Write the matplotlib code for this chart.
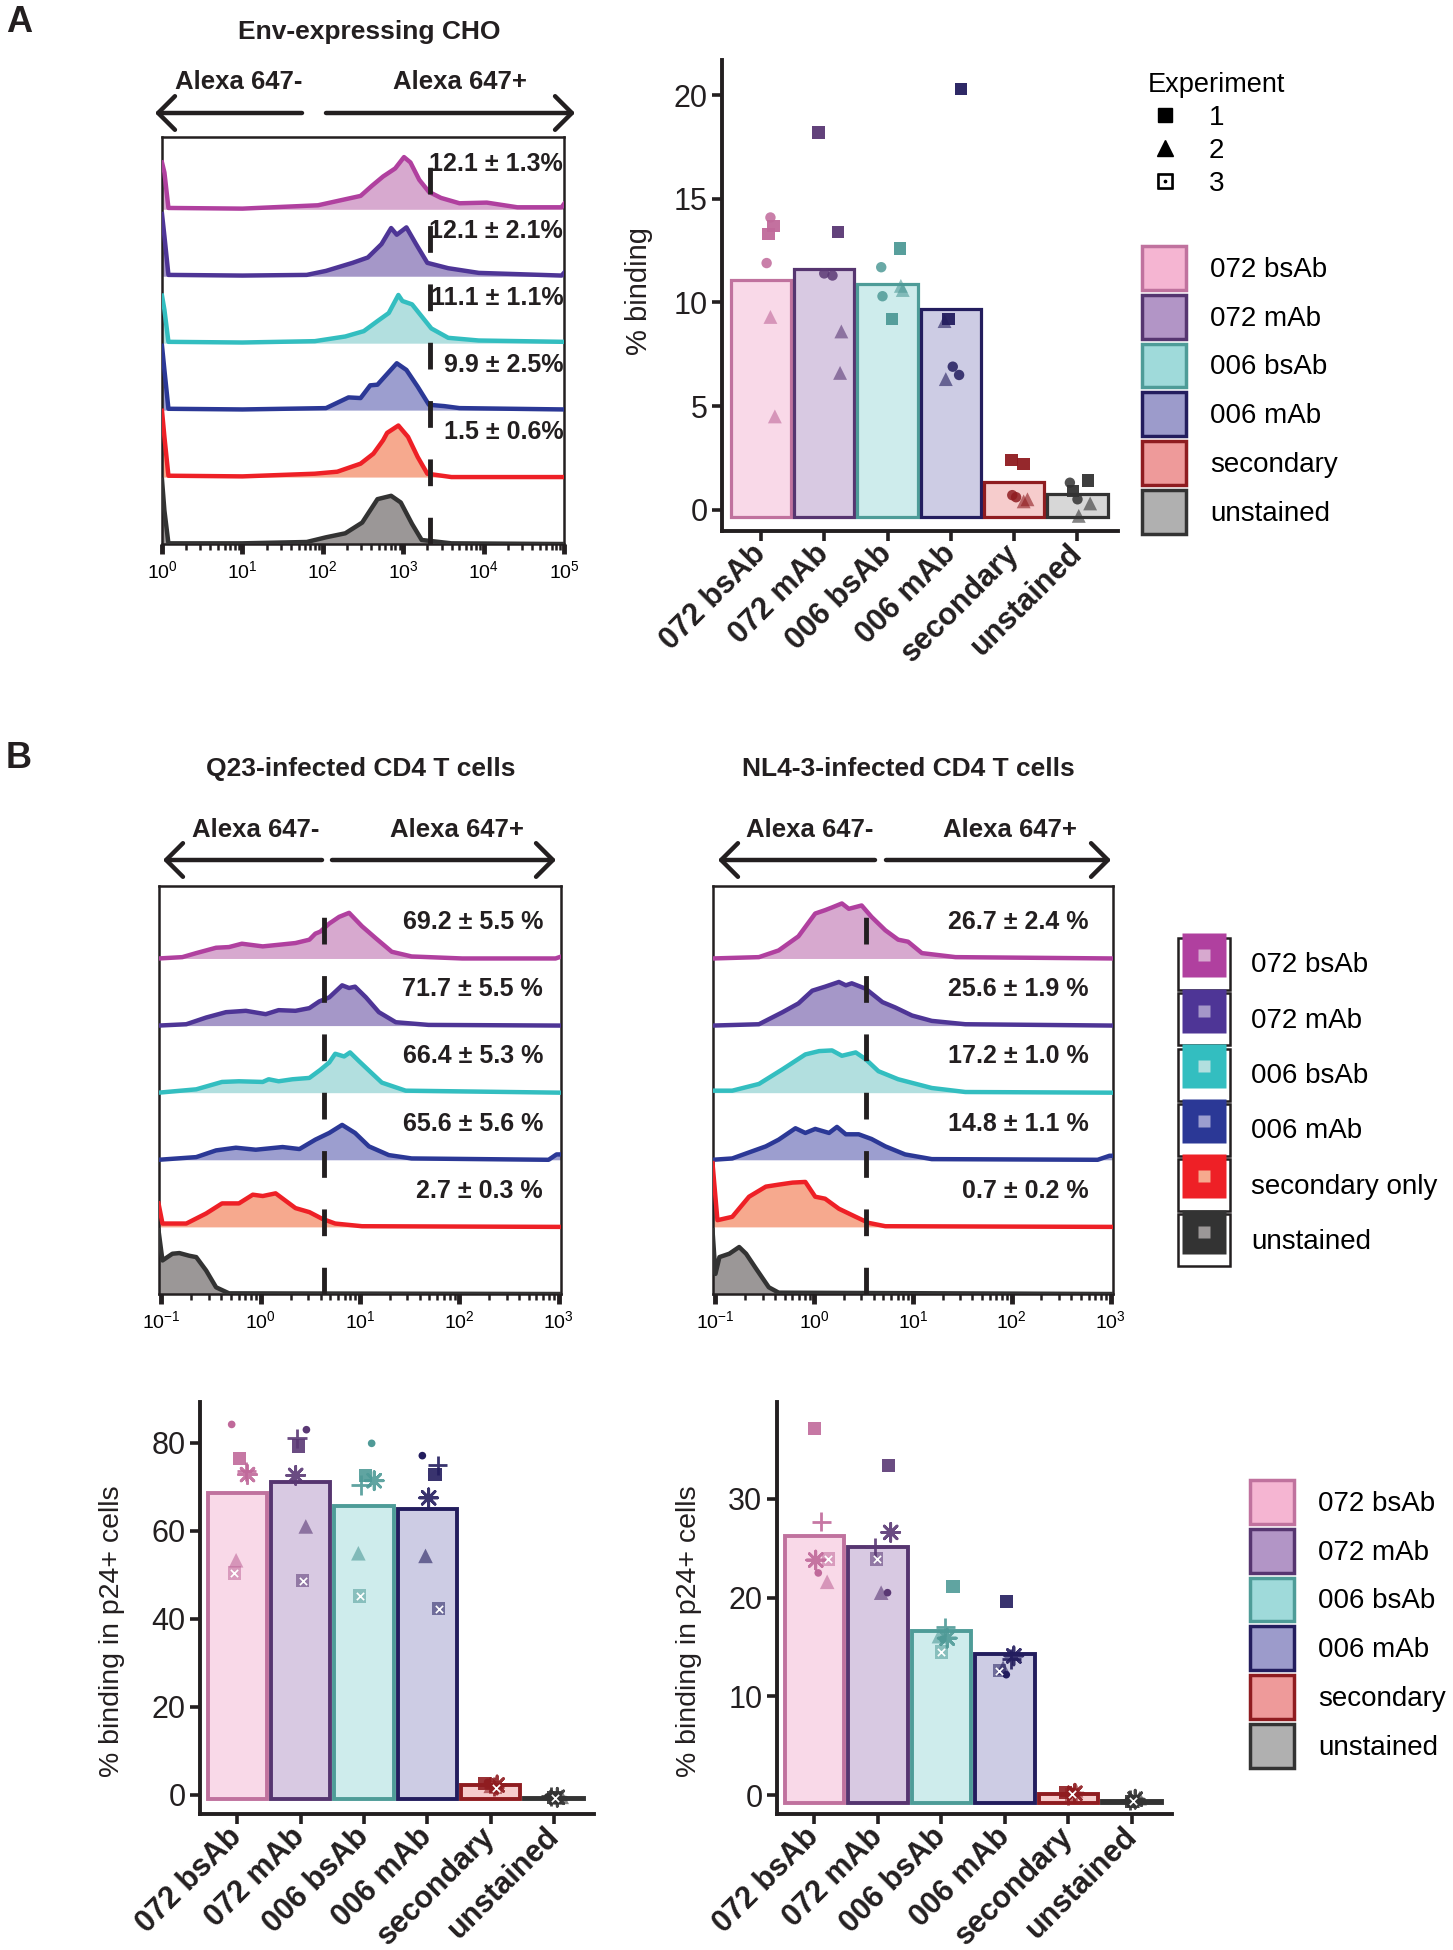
import matplotlib
matplotlib.use("Agg")
import matplotlib.pyplot as plt
import numpy as np
from matplotlib.colors import to_rgba
from matplotlib.lines import Line2D
from matplotlib.patches import Patch, FancyArrowPatch
from matplotlib.ticker import LogLocator, NullFormatter

plt.rcParams['font.family'] = ['Liberation Sans', 'DejaVu Sans']
plt.rcParams['mathtext.default'] = 'regular'

W, H = 1453, 1950
INK = '#231f20'

samples = ['072 bsAb', '072 mAb', '006 bsAb', '006 mAb', 'secondary', 'unstained']
hist_names = ['072 bsAb', '072 mAb', '006 bsAb', '006 mAb', 'secondary only', 'unstained']

# colours
line_col = ['#b0409f', '#4e3596', '#33bec0', '#2b3896', '#ee2026', '#333333']
fill_col = ['#d7a9cf', '#a597c8', '#b2dfdf', '#9c9ecf', '#f6a98e', '#9b9797']
bar_col = ['#f5b5d2', '#b295c6', '#9fdada', '#9c9bcb', '#ee9a9a', '#b0b0b0']
edge_col = ['#c0729e', '#563570', '#4e9c98', '#231d5e', '#8f1c20', '#333333']
pt_col = ['#c0699a', '#5a3874', '#4f9a97', '#231d5e', '#8f1c20', '#333333']

###histograms, Env-expressing CHO (log10 intensity, fraction of row height)
cho_x_072bs = [0.0, 0.03, 0.08, 1.0, 1.94, 2.28, 2.47, 2.61, 2.75, 2.9, 3.01, 3.09, 3.2, 3.32, 3.47, 3.7, 4.04, 4.42, 4.97, 5.0]
cho_y_072bs = [0.70, 0.55, 0.02, 0.01, 0.06, 0.15, 0.20, 0.35, 0.49, 0.61, 0.78, 0.70, 0.44, 0.26, 0.17, 0.09, 0.10, 0.03, 0.03, 0.08]
cho_x_072m = [0.0, 0.03, 0.08, 1.0, 1.8, 2.04, 2.37, 2.56, 2.73, 2.85, 2.92, 3.04, 3.16, 3.3, 3.56, 3.94, 4.97, 5.0]
cho_y_072m = [0.93, 0.6, 0.02, 0.01, 0.02, 0.08, 0.20, 0.28, 0.48, 0.72, 0.62, 0.73, 0.48, 0.20, 0.12, 0.05, 0.01, 0.05]
cho_x_006bs = [0.0, 0.03, 0.08, 1.0, 1.9, 2.28, 2.51, 2.68, 2.82, 2.94, 2.99, 3.11, 3.23, 3.35, 3.56, 3.94, 5.0]
cho_y_006bs = [0.71, 0.5, 0.02, 0.01, 0.03, 0.10, 0.18, 0.33, 0.45, 0.72, 0.63, 0.58, 0.40, 0.22, 0.08, 0.04, 0.02]
cho_x_006m = [0.0, 0.03, 0.08, 1.0, 2.04, 2.32, 2.47, 2.59, 2.68, 2.92, 3.04, 3.18, 3.32, 3.51, 3.7, 5.0]
cho_y_006m = [0.96, 0.6, 0.02, 0.01, 0.03, 0.19, 0.18, 0.37, 0.38, 0.70, 0.60, 0.35, 0.08, 0.06, 0.03, 0.01]
cho_x_sec = [0.0, 0.03, 0.08, 1.0, 1.9, 2.18, 2.47, 2.63, 2.75, 2.8, 2.94, 3.06, 3.18, 3.3, 3.6, 5.0]
cho_y_sec = [0.99, 0.6, 0.02, 0.01, 0.05, 0.08, 0.20, 0.35, 0.55, 0.66, 0.77, 0.60, 0.30, 0.05, 0.0, 0.0]
cho_x_uns = [0.0, 0.03, 0.08, 1.0, 1.8, 2.04, 2.28, 2.49, 2.68, 2.85, 2.97, 3.11, 3.23, 3.6, 5.0]
cho_y_uns = [0.96, 0.5, 0.01, 0.01, 0.03, 0.10, 0.16, 0.32, 0.67, 0.72, 0.62, 0.30, 0.06, 0.01, 0.0]
cho_pct = ['12.1 ± 1.3%', '12.1 ± 2.1%', '11.1 ± 1.1%', '9.9 ± 2.5%', '1.5 ± 0.6%']
cho_gate = 3.33

###histograms, Q23-infected CD4 T cells
q23_x_072bs = [-1.03, -0.79, -0.65, -0.45, -0.32, -0.19, 0.02, 0.22, 0.35, 0.49, 0.55, 0.60, 0.69, 0.79, 0.89, 1.02, 1.16, 1.32, 1.52, 2.03, 2.97, 3.03]
q23_y_072bs = [0.0, 0.02, 0.08, 0.16, 0.17, 0.22, 0.18, 0.21, 0.23, 0.28, 0.37, 0.40, 0.52, 0.62, 0.68, 0.48, 0.30, 0.10, 0.03, 0.0, 0.0, 0.03]
q23_x_072m = [-1.03, -0.75, -0.55, -0.35, -0.15, 0.05, 0.18, 0.35, 0.49, 0.59, 0.69, 0.82, 0.89, 0.95, 1.06, 1.19, 1.36, 1.69, 3.03]
q23_y_072m = [0.0, 0.02, 0.12, 0.20, 0.22, 0.17, 0.23, 0.22, 0.26, 0.36, 0.42, 0.60, 0.56, 0.58, 0.42, 0.20, 0.05, 0.01, 0.0]
q23_x_006bs = [-1.03, -0.65, -0.39, -0.22, 0.02, 0.08, 0.18, 0.32, 0.49, 0.60, 0.69, 0.75, 0.84, 0.90, 0.99, 1.09, 1.22, 1.46, 3.03]
q23_y_006bs = [0.0, 0.05, 0.16, 0.17, 0.16, 0.20, 0.17, 0.20, 0.22, 0.34, 0.45, 0.58, 0.54, 0.60, 0.47, 0.33, 0.15, 0.03, 0.0]
q23_x_006m = [-1.03, -0.65, -0.45, -0.25, -0.05, 0.22, 0.39, 0.55, 0.69, 0.82, 0.95, 1.09, 1.29, 1.52, 2.9, 2.98, 3.03]
q23_y_006m = [0.0, 0.04, 0.14, 0.18, 0.15, 0.19, 0.16, 0.30, 0.40, 0.52, 0.40, 0.20, 0.07, 0.02, 0.0, 0.08, 0.08]
q23_x_sec = [-1.03, -0.99, -0.75, -0.55, -0.39, -0.22, -0.08, 0.02, 0.15, 0.25, 0.35, 0.49, 0.62, 0.75, 1.02, 3.03]
q23_y_sec = [0.35, 0.05, 0.05, 0.20, 0.35, 0.35, 0.48, 0.46, 0.50, 0.39, 0.28, 0.22, 0.12, 0.05, 0.01, 0.0]
q23_x_uns = [-1.03, -0.99, -0.94, -0.89, -0.82, -0.72, -0.65, -0.55, -0.45, -0.32, 3.03]
q23_y_uns = [0.95, 0.50, 0.55, 0.60, 0.61, 0.57, 0.55, 0.35, 0.10, 0.01, 0.0]
q23_pct = ['69.2 ± 5.5 %', '71.7 ± 5.5 %', '66.4 ± 5.3 %', '65.6 ± 5.6 %', '2.7 ± 0.3 %']
q23_gate = 0.64

###histograms, NL4-3-infected CD4 T cells
nl_x_072bs = [-1.03, -0.56, -0.36, -0.16, 0.01, 0.11, 0.18, 0.28, 0.35, 0.48, 0.58, 0.72, 0.85, 0.95, 1.09, 1.43, 3.03]
nl_y_072bs = [0.0, 0.02, 0.12, 0.33, 0.67, 0.72, 0.76, 0.82, 0.74, 0.79, 0.62, 0.42, 0.28, 0.25, 0.08, 0.02, 0.0]
nl_x_072m = [-1.03, -0.56, -0.32, -0.16, -0.02, 0.11, 0.25, 0.32, 0.38, 0.52, 0.69, 0.82, 0.99, 1.19, 1.53, 3.03]
nl_y_072m = [0.0, 0.02, 0.20, 0.33, 0.52, 0.58, 0.65, 0.60, 0.63, 0.55, 0.35, 0.27, 0.15, 0.07, 0.02, 0.0]
nl_x_006bs = [-1.03, -0.83, -0.56, -0.32, -0.09, 0.05, 0.18, 0.28, 0.42, 0.52, 0.65, 0.85, 1.19, 1.53, 3.03]
nl_y_006bs = [0.03, 0.03, 0.13, 0.35, 0.57, 0.62, 0.63, 0.55, 0.60, 0.50, 0.32, 0.20, 0.07, 0.01, 0.0]
nl_x_006m = [-1.03, -0.83, -0.49, -0.36, -0.19, -0.09, 0.01, 0.15, 0.23, 0.32, 0.45, 0.58, 0.72, 0.92, 1.19, 2.87, 2.99, 3.03]
nl_y_006m = [0.0, 0.02, 0.20, 0.30, 0.47, 0.40, 0.46, 0.40, 0.49, 0.38, 0.38, 0.31, 0.20, 0.08, 0.01, 0.0, 0.06, 0.06]
nl_x_sec = [-1.03, -0.98, -0.83, -0.66, -0.49, -0.36, -0.22, -0.09, 0.01, 0.11, 0.25, 0.42, 0.55, 0.72, 3.03]
nl_y_sec = [0.95, 0.10, 0.15, 0.45, 0.60, 0.63, 0.66, 0.67, 0.45, 0.42, 0.27, 0.15, 0.06, 0.01, 0.0]
nl_x_uns = [-1.03, -1.0, -0.96, -0.86, -0.76, -0.69, -0.59, -0.46, -0.36, 3.03]
nl_y_uns = [0.95, 0.30, 0.55, 0.60, 0.70, 0.60, 0.38, 0.10, 0.02, 0.0]
nl_pct = ['26.7 ± 2.4 %', '25.6 ± 1.9 %', '17.2 ± 1.0 %', '14.8 ± 1.1 %', '0.7 ± 0.2 %']
nl_gate = 0.52

###bar chart A (% binding), two replicates per experiment
cho_bar = [11.1, 11.6, 10.9, 9.7, 1.35, 0.75]
cho_sq_a = [13.7, 18.2, 12.6, 20.3, 2.4, 1.4]
cho_sq_b = [13.3, 13.4, 9.2, 9.2, 2.2, 0.9]
cho_tri_a = [9.3, 8.6, 10.8, 9.1, 0.5, 0.3]
cho_tri_b = [4.5, 6.6, 10.6, 6.3, 0.4, -0.3]
cho_dot_a = [14.1, 11.4, 11.7, 6.9, 0.7, 1.3]
cho_dot_b = [11.9, 11.3, 10.3, 6.5, 0.6, 0.5]
# horizontal jitter
cho_j_sq_a = [0.20, -0.09, 0.20, 0.16, -0.04, 0.17]
cho_j_sq_b = [0.12, 0.22, 0.07, -0.04, 0.15, -0.07]
cho_j_tri_a = [0.15, 0.27, 0.21, -0.10, 0.21, 0.20]
cho_j_tri_b = [0.22, 0.25, 0.24, -0.08, 0.15, 0.02]
cho_j_dot_a = [0.15, 0.0, -0.10, 0.03, -0.03, -0.12]
cho_j_dot_b = [0.09, 0.13, -0.08, 0.13, 0.03, 0.0]

###bar chart B, Q23 (% binding in p24+ cells), one point per experiment
q23_bar = [68.6, 71.0, 65.7, 64.9, 2.2, -0.8]
q23_dot = [84.2, 83.0, 79.9, 77.1, 2.8, -0.5]
q23_sq = [76.4, 79.3, 72.6, 72.8, 2.5, -0.7]
q23_ast = [72.8, 72.6, 71.4, 67.5, 2.2, -0.6]
q23_plus = [73.5, 81.0, 70.4, 74.9, 1.8, -0.4]
q23_tri = [53.3, 61.0, 54.9, 54.3, 2.0, -0.5]
q23_box = [50.4, 48.7, 45.2, 42.3, 1.6, -0.8]
q23_j_dot = [-0.09, 0.09, 0.12, -0.08, -0.05, -0.10]
q23_j_sq = [0.03, -0.04, 0.02, 0.12, -0.10, 0.0]
q23_j_ast = [0.16, -0.08, 0.16, 0.02, 0.10, 0.05]
q23_j_plus = [0.14, -0.06, -0.05, 0.16, 0.05, -0.05]
q23_j_tri = [-0.02, 0.08, -0.09, -0.03, 0.0, 0.12]
q23_j_box = [-0.05, 0.03, -0.07, 0.18, 0.08, 0.02]

###bar chart B, NL4-3
nl_bar = [26.2, 25.1, 16.6, 14.3, 0.1, -0.6]
nl_dot = [22.5, 20.5, 15.8, 12.2, 0.4, -0.5]
nl_sq = [37.1, 33.4, 21.1, 19.6, 0.3, -0.6]
nl_ast = [23.8, 26.6, 15.9, 14.1, 0.2, -0.4]
nl_plus = [27.7, 25.1, 17.0, 13.8, 0.0, -0.5]
nl_tri = [21.6, 20.5, 16.1, 12.9, 0.5, -0.3]
nl_box = [23.9, 23.9, 14.5, 12.6, 0.1, -0.6]
nl_j_dot = [0.06, 0.15, 0.02, 0.02, 0.05, -0.05]
nl_j_sq = [0.0, 0.16, 0.18, 0.03, -0.05, 0.0]
nl_j_ast = [0.02, 0.20, 0.09, 0.14, 0.10, 0.05]
nl_j_plus = [0.11, -0.05, 0.06, 0.10, 0.0, -0.03]
nl_j_tri = [0.20, 0.05, -0.04, -0.03, 0.12, 0.12]
nl_j_box = [0.22, -0.02, 0.0, -0.09, 0.05, 0.02]


fig = plt.figure(figsize=(W / 100, H / 100), dpi=100)


def px_axes(l, t, r, b):
    return fig.add_axes([l / W, 1 - b / H, (r - l) / W, (b - t) / H])


def ftxt(x, y, s, **kw):
    fig.text(x / W, 1 - y / H, s, ha='center', va='center', color=INK, **kw)


def farrow(x0, x1, y):
    fig.add_artist(FancyArrowPatch((x0 / W, 1 - y / H), (x1 / W, 1 - y / H),
                                   transform=fig.transFigure,
                                   arrowstyle='->,head_length=0.55,head_width=0.55',
                                   mutation_scale=22, lw=3.2, color=INK,
                                   shrinkA=0, shrinkB=0))


def histogram(box, xs, ys, pct, gate, lo, hi, lab_x, lab_dy):
    ax = px_axes(*box)
    for k in range(6):
        off = 5 - k
        x = np.power(10.0, xs[k])
        y = off + np.asarray(ys[k])
        ax.fill_between(x, off, y, color=fill_col[k], lw=0, zorder=2)
        ax.plot(x, y, color=line_col[k], lw=3.2, zorder=3, solid_joinstyle='round')
    for k, s in enumerate(pct):
        ax.text(lab_x, 5 - k + lab_dy, s, transform=ax.get_yaxis_transform(),
                ha='right', va='center', fontsize=18, fontweight='bold', color=INK, zorder=5)
    ax.axvline(10 ** gate, color=INK, lw=3.5, dashes=(5.5, 6.5), zorder=4)
    ax.set_xscale('log')
    ax.set_xlim(10 ** lo, 10 ** hi)
    ax.set_ylim(0, 6.08)
    ax.set_yticks([])
    ax.xaxis.set_major_locator(LogLocator(base=10, numticks=20))
    ax.xaxis.set_minor_locator(LogLocator(base=10, subs=np.arange(2, 10), numticks=60))
    ax.xaxis.set_minor_formatter(NullFormatter())
    ax.tick_params(axis='x', which='major', length=7, width=3.5, labelsize=14, pad=5, color=INK)
    ax.tick_params(axis='x', which='minor', length=4.5, width=1.8, color=INK)
    for sp in ax.spines.values():
        sp.set_linewidth(1.8)
        sp.set_color(INK)
    return ax


def bar_axes(box, vals, base, width, xlim, ylim, yticks, ylabel, lab_xy, lw, fs_x, fs_lab):
    ax = px_axes(*box)
    pos = np.arange(len(samples))
    face = [to_rgba(c, 0.5) for c in bar_col]
    ax.bar(pos, np.asarray(vals) - base, bottom=base, width=width, color=face,
           edgecolor=edge_col, linewidth=lw, zorder=2)
    ax.set_xlim(*xlim)
    ax.set_ylim(*ylim)
    ax.set_yticks(yticks)
    ax.set_xticks(pos)
    ax.set_xticklabels(samples, rotation=45, ha='right', va='center', rotation_mode='anchor',
                       fontweight='bold', fontsize=fs_x)
    ax.tick_params(axis='both', length=7, width=2.6, color=INK, labelsize=22, labelcolor=INK)
    ax.tick_params(axis='x', pad=6)
    for s in ['top', 'right']:
        ax.spines[s].set_visible(False)
    for s in ['left', 'bottom']:
        ax.spines[s].set_linewidth(2.8)
        ax.spines[s].set_color(INK)
    ax.set_ylabel(ylabel, fontsize=fs_lab, color=INK)
    ax.yaxis.set_label_coords(*lab_xy)
    return ax


def points(ax, vals, jit, marker, ms, alpha, lw=0.0):
    x = np.arange(len(vals)) + np.asarray(jit)
    ax.scatter(x, vals, c=pt_col, marker=marker, s=ms ** 2, alpha=alpha,
               linewidths=lw, zorder=3, clip_on=False)


def boxx(ax, vals, jit, ms, alpha):
    points(ax, vals, jit, 's', ms, alpha)
    x = np.arange(len(vals)) + np.asarray(jit)
    ax.scatter(x, vals, c='white', marker='x', s=(ms * 0.55) ** 2, linewidths=1.2, zorder=4)


# ---------------- panel A ----------------
ftxt(19, 22, 'A', fontsize=26, fontweight='bold')
ftxt(369, 32, 'Env-expressing CHO', fontsize=19, fontweight='bold')
ftxt(239, 82, 'Alexa 647-', fontsize=18.5, fontweight='bold')
ftxt(460, 82, 'Alexa 647+', fontsize=18.5, fontweight='bold')
farrow(302, 155, 113)
farrow(326, 575, 113)

histogram((162, 137, 564, 544),
          [cho_x_072bs, cho_x_072m, cho_x_006bs, cho_x_006m, cho_x_sec, cho_x_uns],
          [cho_y_072bs, cho_y_072m, cho_y_006bs, cho_y_006m, cho_y_sec, cho_y_uns],
          cho_pct, cho_gate, 0.0, 5.0, 0.998, 0.67)

axA = bar_axes((722, 60, 1118, 531), cho_bar, -0.35, 0.955, (-0.615, 5.64), (-1.03, 21.7),
               [0, 5, 10, 15, 20], '% binding', (-0.175, 0.51), 2.3, 20, 21)
points(axA, cho_tri_a, cho_j_tri_a, '^', 10, 0.6)
points(axA, cho_tri_b, cho_j_tri_b, '^', 10, 0.6)
points(axA, cho_dot_a, cho_j_dot_a, 'o', 7.5, 0.85)
points(axA, cho_dot_b, cho_j_dot_b, 'o', 7.5, 0.85)
points(axA, cho_sq_a, cho_j_sq_a, 's', 9, 0.95)
points(axA, cho_sq_b, cho_j_sq_b, 's', 9, 0.95)

exp_handles = [Line2D([], [], ls='', marker='s', ms=10, color='black'),
               Line2D([], [], ls='', marker='^', ms=11, color='black'),
               Line2D([], [], ls='', marker='$\u22A1$', ms=11, color='black')]
fig.legend(exp_handles, ['1', '2', '3'], title='Experiment', loc='upper left',
           bbox_to_anchor=(1148 / W, 1 - 72 / H), frameon=False, fontsize=20,
           title_fontsize=19.5, alignment='left', handlelength=1.2, handletextpad=1.0,
           labelspacing=0.25, borderpad=0, borderaxespad=0)

fill_handles = [Patch(facecolor=bar_col[k], edgecolor=edge_col[k], lw=2.5) for k in range(6)]
fig.legend(fill_handles, samples, loc='upper left', bbox_to_anchor=(1142 / W, 1 - 246 / H),
           frameon=False, fontsize=20, handlelength=1.6, handleheight=2.05,
           labelspacing=0.18, handletextpad=0.85, borderpad=0, borderaxespad=0)

# ---------------- panel B ----------------
ftxt(19, 759, 'B', fontsize=26, fontweight='bold')
ftxt(361, 769, 'Q23-infected CD4 T cells', fontsize=19, fontweight='bold')
ftxt(908, 769, 'NL4-3-infected CD4 T cells', fontsize=19, fontweight='bold')
ftxt(256, 830, 'Alexa 647-', fontsize=18.5, fontweight='bold')
ftxt(457, 830, 'Alexa 647+', fontsize=18.5, fontweight='bold')
ftxt(810, 830, 'Alexa 647-', fontsize=18.5, fontweight='bold')
ftxt(1010, 830, 'Alexa 647+', fontsize=18.5, fontweight='bold')
farrow(322, 163, 860)
farrow(332, 556, 860)
farrow(875, 718, 860)
farrow(886, 1111, 860)

histogram((159, 886, 561, 1294),
          [q23_x_072bs, q23_x_072m, q23_x_006bs, q23_x_006m, q23_x_sec, q23_x_uns],
          [q23_y_072bs, q23_y_072m, q23_y_006bs, q23_y_006m, q23_y_sec, q23_y_uns],
          q23_pct, q23_gate, -1.025, 3.025, 0.955, 0.54)
histogram((713, 886, 1113, 1294),
          [nl_x_072bs, nl_x_072m, nl_x_006bs, nl_x_006m, nl_x_sec, nl_x_uns],
          [nl_y_072bs, nl_y_072m, nl_y_006bs, nl_y_006m, nl_y_sec, nl_y_uns],
          nl_pct, nl_gate, -1.025, 3.025, 0.94, 0.54)

hist_handles = [(Patch(facecolor='white', edgecolor=INK, lw=1.8),
                 Line2D([], [], ls='', marker='s', ms=32, mfc=line_col[k], mec='none'),
                 Line2D([], [], ls='', marker='s', ms=9, mfc=fill_col[k], mec='none'))
                for k in range(6)]
fig.legend(hist_handles, hist_names, loc='upper left', bbox_to_anchor=(1178 / W, 1 - 938 / H),
           frameon=False, fontsize=20, handlelength=1.87, handleheight=2.5,
           labelspacing=0.12, handletextpad=0.75, borderpad=0, borderaxespad=0)

axQ = bar_axes((200, 1402, 594, 1814), q23_bar, -1.1, 0.935, (-0.59, 5.63), (-4.4, 89.3),
               [0, 20, 40, 60, 80], '% binding in p24+ cells', (-0.19, 0.443), 2.8, 21, 20.5)
axN = bar_axes((777, 1402, 1172, 1814), nl_bar, -0.8, 0.935, (-0.59, 5.63), (-1.9, 39.8),
               [0, 10, 20, 30], '% binding in p24+ cells', (-0.19, 0.443), 2.8, 21, 20.5)

for ax, dot, sq, ast, plus, tri, bx, jd, js, ja, jp, jt, jb in [
        (axQ, q23_dot, q23_sq, q23_ast, q23_plus, q23_tri, q23_box,
         q23_j_dot, q23_j_sq, q23_j_ast, q23_j_plus, q23_j_tri, q23_j_box),
        (axN, nl_dot, nl_sq, nl_ast, nl_plus, nl_tri, nl_box,
         nl_j_dot, nl_j_sq, nl_j_ast, nl_j_plus, nl_j_tri, nl_j_box)]:
    points(ax, tri, jt, '^', 10.5, 0.6)
    boxx(ax, bx, jb, 9.5, 0.55)
    points(ax, sq, js, 's', 9.5, 0.9)
    points(ax, ast, ja, (8, 2, 0), 13, 0.9, lw=2)
    points(ax, plus, jp, '+', 14, 0.9, lw=2)
    points(ax, dot, jd, 'o', 5.5, 1.0)

fig.legend(fill_handles, samples, loc='upper left', bbox_to_anchor=(1250 / W, 1 - 1480 / H),
           frameon=False, fontsize=20, handlelength=1.6, handleheight=2.05,
           labelspacing=0.18, handletextpad=0.85, borderpad=0, borderaxespad=0)

fig.savefig('out.png', dpi=100, facecolor='white')
